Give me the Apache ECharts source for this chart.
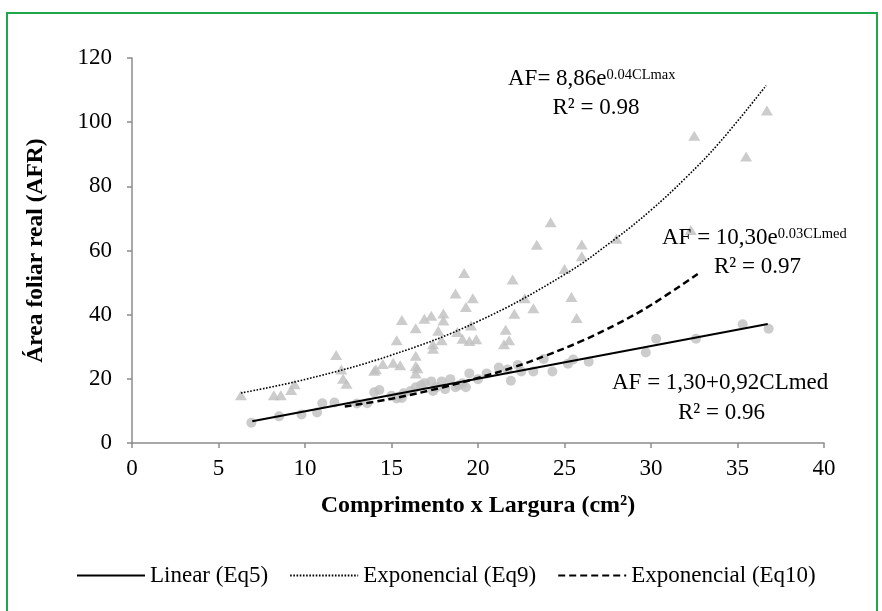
<!DOCTYPE html>
<html>
<head>
<meta charset="utf-8">
<script src="https://cdn.jsdelivr.net/npm/echarts@6/dist/echarts.min.js"></script>
<style>html,body{margin:0;padding:0;background:#fff;}#c{width:882px;height:611px;}</style>
</head>
<body>
<div id="c"></div>
<script>
// Triangles: real leaf area vs CL (max)
const maxX = [6.3,8.2,8.6,9.2,9.4,11.8,12.1,12.2,12.4,14.0,14.1,14.5,15.1,15.3,15.5,15.6,16.4,16.4,16.4,16.5,16.4,16.9,17.3,17.4,17.4,17.7,18.0,18.0,17.9,18.7,18.8,19.1,19.2,19.3,19.7,19.5,19.6,19.9,21.5,21.6,21.8,22.0,22.1,22.7,23.2,23.4,24.2,25.0,25.4,25.7,26.0,26.0,28.0,32.3,32.5,35.5,36.7];
const maxY = [14.9,14.9,14.9,16.5,18.3,27.4,22.9,20.0,18.5,22.5,23.0,24.6,25.0,32.0,24.2,38.3,21.7,27.2,24.0,23.3,35.8,38.7,39.7,29.4,30.8,35.0,40.4,38.2,32.0,46.6,34.6,32.5,53.0,42.4,45.1,31.8,36.6,32.3,30.8,35.3,32.0,51.0,40.3,45.1,42.0,61.8,68.8,54.2,45.5,39.0,61.9,58.2,63.7,66.4,95.8,89.3,103.6];
// Circles: real leaf area vs CL (med)
const medX = [6.9,8.5,9.8,10.7,11.0,11.7,13.0,13.6,14.0,14.3,15.0,15.3,15.4,15.6,15.7,16.1,16.4,16.7,16.9,17.3,17.4,17.6,17.9,18.1,18.4,18.7,18.9,19.1,19.3,19.5,20.0,20.5,21.2,21.7,21.9,22.3,22.5,23.2,23.8,24.3,25.2,25.5,26.4,29.7,30.3,32.6,35.3,36.8];
const medY = [6.3,8.3,8.9,9.5,12.4,12.6,12.3,12.4,15.8,16.5,14.7,13.9,14.4,14.0,15.5,16.2,17.4,18.0,18.6,19.2,16.2,17.4,19.2,16.8,19.9,17.4,18.0,18.6,17.4,21.7,19.9,21.7,23.5,22.9,19.4,24.3,22.3,22.3,26.2,22.3,24.7,26.0,25.3,28.2,32.5,32.5,37.0,35.6];
// Trendlines
const linX = [6.95, 36.75];
const linY = [6.8, 37.1];
const eq9X = [6.3, 10, 15, 20, 25, 28, 30, 32, 34, 36.65];
const eq9Y = [15.6, 19.8, 27.4, 37.9, 52.5, 63.9, 72.6, 82.6, 93.9, 111.4];
const eq10X = [12.3, 15, 18, 20, 22, 24, 26, 28, 30, 32.7];
const eq10Y = [11.4, 13.8, 17.4, 20.3, 23.5, 27.4, 31.8, 37.0, 43.0, 52.7];
const seriesNames = ['Linear (Eq5)', 'Exponencial (Eq9)', 'Exponencial (Eq10)'];
const xTitle = 'Comprimento x Largura (cm²)';
const yTitle = 'Área foliar real (AFR)';

const zip = (a, b) => a.map((v, i) => [v, b[i]]);
const FONT = 'Liberation Serif';
const gray = '#bfbfbf';
const FS = 23;

const chart = echarts.init(document.getElementById('c'));
chart.setOption({
  backgroundColor: '#fff',
  animation: false,
  grid: { left: 132, right: 58, top: 58, bottom: 168 },
  xAxis: {
    type: 'value', min: 0, max: 40, interval: 5,
    name: xTitle, nameLocation: 'middle', nameGap: 51,
    nameTextStyle: { fontFamily: FONT, fontSize: 24, fontWeight: 'bold', color: '#000' },
    axisLine: { show: true, lineStyle: { color: '#8c8c8c', width: 1.5 } },
    axisTick: { show: true, inside: false, length: 5, lineStyle: { color: '#8c8c8c', width: 1.5 } },
    axisLabel: { fontFamily: FONT, fontSize: FS, color: '#000', margin: 14 },
    splitLine: { show: false }
  },
  yAxis: {
    type: 'value', min: 0, max: 120, interval: 20,
    name: yTitle, nameLocation: 'middle', nameGap: 84,
    nameTextStyle: { fontFamily: FONT, fontSize: 23.5, fontWeight: 'bold', color: '#000' },
    axisLine: { show: true, lineStyle: { color: '#8c8c8c', width: 1.5 } },
    axisTick: { show: true, inside: false, length: 5, lineStyle: { color: '#8c8c8c', width: 1.5 } },
    axisLabel: { fontFamily: FONT, fontSize: FS, color: '#000', margin: 20 },
    splitLine: { show: false }
  },
  legend: {
    data: seriesNames,
    left: 71, top: 559,
    itemWidth: 68, itemHeight: 14, itemGap: 21,
    itemStyle: { color: 'rgba(0,0,0,0)', borderColor: 'rgba(0,0,0,0)', borderWidth: 0, opacity: 0 },
    textStyle: { fontFamily: FONT, fontSize: FS, color: '#000' }
  },
  series: [
    { type: 'scatter', name: 'max', data: zip(maxX, maxY), symbol: 'triangle', symbolSize: [12, 10],
      itemStyle: { color: gray }, z: 2 },
    { type: 'scatter', name: 'med', data: zip(medX, medY), symbol: 'circle', symbolSize: 10,
      itemStyle: { color: gray }, z: 2 },
    { type: 'line', name: seriesNames[0], data: zip(linX, linY), symbol: 'none', showSymbol: false,
      lineStyle: { color: '#000', width: 2 }, itemStyle: { color: '#000' }, z: 5 },
    { type: 'line', name: seriesNames[1], data: zip(eq9X, eq9Y), symbol: 'none', showSymbol: false, smooth: 0.4,
      lineStyle: { color: '#000', width: 1.6, type: [1.6, 1.6] }, itemStyle: { color: '#000' }, z: 5 },
    { type: 'line', name: seriesNames[2], data: zip(eq10X, eq10Y), symbol: 'none', showSymbol: false, smooth: 0.4,
      lineStyle: { color: '#000', width: 2.5, type: [7, 4] }, itemStyle: { color: '#000' }, z: 5 }
  ],
  graphic: [
    { type: 'rect', shape: { x: 7, y: 13, width: 870, height: 610 }, style: { fill: 'none', stroke: '#1fa84a', lineWidth: 2 }, silent: true },
    { type: 'text', x: 508, y: 79, z: 10, style: {
        text: '{a|AF= 8,86e}{s|0.04CLmax}', verticalAlign: 'middle', align: 'left',
        rich: { a: { fontFamily: FONT, fontSize: FS, fill: '#000' }, s: { fontFamily: FONT, fontSize: 14.5, fill: '#000', verticalAlign: 'top' } } } },
    { type: 'text', x: 596, y: 108, z: 10, style: { text: 'R² = 0.98', align: 'center', verticalAlign: 'middle', fontFamily: FONT, fontSize: FS, fill: '#000' } },
    { type: 'text', x: 662, y: 238, z: 10, style: {
        text: '{a|AF = 10,30e}{s|0.03CLmed}', verticalAlign: 'middle', align: 'left',
        rich: { a: { fontFamily: FONT, fontSize: FS, fill: '#000' }, s: { fontFamily: FONT, fontSize: 14.5, fill: '#000', verticalAlign: 'top' } } } },
    { type: 'text', x: 714, y: 267, z: 10, style: { text: 'R² = 0.97', align: 'left', verticalAlign: 'middle', fontFamily: FONT, fontSize: FS, fill: '#000' } },
    { type: 'text', x: 612, y: 383, z: 10, style: { text: 'AF = 1,30+0,92CLmed', align: 'left', verticalAlign: 'middle', fontFamily: FONT, fontSize: FS, fill: '#000' } },
    { type: 'text', x: 678, y: 413, z: 10, style: { text: 'R² = 0.96', align: 'left', verticalAlign: 'middle', fontFamily: FONT, fontSize: FS, fill: '#000' } }
  ]
});
</script>
</body>
</html>
